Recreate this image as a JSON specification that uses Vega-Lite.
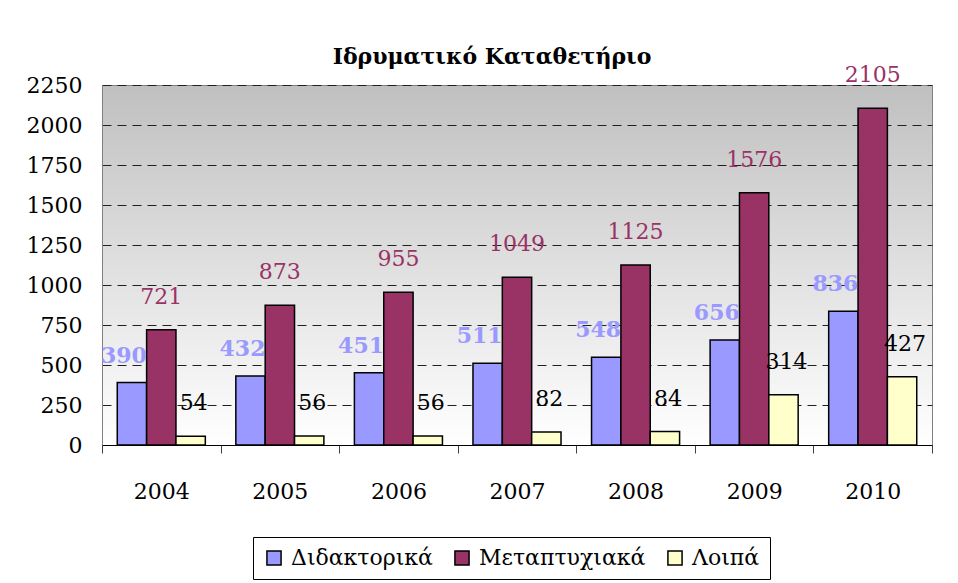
{
  "$schema": "https://vega.github.io/schema/vega-lite/v6.json",
  "width": 830,
  "height": 360,
  "autosize": {"type": "none"},
  "padding": {"left": 102, "top": 85, "right": 26, "bottom": 138},
  "background": "white",
  "title": {
    "text": "Ιδρυματικό Καταθετήριο",
    "font": "DejaVu Serif",
    "fontSize": 22,
    "fontWeight": "bold",
    "color": "black",
    "anchor": "middle",
    "dx": -25,
    "dy": 44,
    "baseline": "alphabetic",
    "offset": 22
  },
  "data": {
    "values": [
      {"year": "2004", "series": "Διδακτορικά", "value": 390},
      {"year": "2004", "series": "Μεταπτυχιακά", "value": 721},
      {"year": "2004", "series": "Λοιπά", "value": 54},
      {"year": "2005", "series": "Διδακτορικά", "value": 432},
      {"year": "2005", "series": "Μεταπτυχιακά", "value": 873},
      {"year": "2005", "series": "Λοιπά", "value": 56},
      {"year": "2006", "series": "Διδακτορικά", "value": 451},
      {"year": "2006", "series": "Μεταπτυχιακά", "value": 955},
      {"year": "2006", "series": "Λοιπά", "value": 56},
      {"year": "2007", "series": "Διδακτορικά", "value": 511},
      {"year": "2007", "series": "Μεταπτυχιακά", "value": 1049},
      {"year": "2007", "series": "Λοιπά", "value": 82},
      {"year": "2008", "series": "Διδακτορικά", "value": 548},
      {"year": "2008", "series": "Μεταπτυχιακά", "value": 1125},
      {"year": "2008", "series": "Λοιπά", "value": 84},
      {"year": "2009", "series": "Διδακτορικά", "value": 656},
      {"year": "2009", "series": "Μεταπτυχιακά", "value": 1576},
      {"year": "2009", "series": "Λοιπά", "value": 314},
      {"year": "2010", "series": "Διδακτορικά", "value": 836},
      {"year": "2010", "series": "Μεταπτυχιακά", "value": 2105},
      {"year": "2010", "series": "Λοιπά", "value": 427}
    ]
  },
  "encoding": {
    "x": {
      "field": "year",
      "type": "nominal",
      "scale": {"paddingInner": 0, "paddingOuter": 0},
      "axis": {
        "title": null,
        "labelAngle": 0,
        "labelFont": "DejaVu Serif",
        "labelFontSize": 22,
        "labelColor": "black",
        "labelPadding": 28,
        "domainColor": "black",
        "domainWidth": 1,
        "tickColor": "#404040",
        "tickSize": 8,
        "tickBand": "extent",
        "grid": false
      }
    },
    "xOffset": {
      "field": "series",
      "type": "nominal",
      "scale": {"domain": ["Διδακτορικά", "Μεταπτυχιακά", "Λοιπά"], "paddingInner": 0, "paddingOuter": 0.52}
    },
    "y": {
      "field": "value",
      "type": "quantitative",
      "scale": {"domain": [0, 2250], "nice": false},
      "axis": {
        "title": null,
        "values": [0, 250, 500, 750, 1000, 1250, 1500, 1750, 2000, 2250],
        "format": "d",
        "labelFont": "DejaVu Serif",
        "labelFontSize": 22,
        "labelColor": "black",
        "labelPadding": 20,
        "ticks": false,
        "domainColor": "#808080",
        "grid": true,
        "gridColor": "#202020",
        "gridDash": [9, 6],
        "gridWidth": 1
      }
    }
  },
  "layer": [
    {
      "mark": {"type": "bar", "stroke": "black", "strokeWidth": 1.5},
      "encoding": {
        "color": {
          "field": "series",
          "type": "nominal",
          "scale": {"domain": ["Διδακτορικά", "Μεταπτυχιακά", "Λοιπά"], "range": ["#9999FF", "#993366", "#FFFFCC"]},
          "legend": {
            "title": null,
            "orient": "none",
            "legendX": 151,
            "legendY": 452,
            "direction": "horizontal",
            "columns": 3,
            "strokeColor": "black",
            "padding": 10,
            "labelFont": "DejaVu Serif",
            "labelFontSize": 22,
            "labelColor": "black",
            "labelLimit": 400,
            "symbolType": "square",
            "symbolSize": 200,
            "symbolStrokeColor": "black",
            "symbolStrokeWidth": 1.5,
            "labelOffset": 6,
            "columnPadding": 18
          }
        }
      }
    },
    {
      "transform": [{"filter": "datum.series === 'Διδακτορικά'"}],
      "mark": {"type": "text", "font": "DejaVu Serif", "fontSize": 22, "fontWeight": "bold", "color": "#9999FF", "baseline": "alphabetic", "dy": -20, "dx": -8},
      "encoding": {"text": {"field": "value", "type": "quantitative"}}
    },
    {
      "transform": [{"filter": "datum.series === 'Μεταπτυχιακά'"}],
      "mark": {"type": "text", "font": "DejaVu Serif", "fontSize": 22, "color": "#993366", "baseline": "alphabetic", "dy": -26},
      "encoding": {"text": {"field": "value", "type": "quantitative"}}
    },
    {
      "transform": [{"filter": "datum.series === 'Λοιπά'"}],
      "mark": {"type": "text", "font": "DejaVu Serif", "fontSize": 22, "color": "black", "baseline": "alphabetic", "dy": -26, "dx": 3},
      "encoding": {"text": {"field": "value", "type": "quantitative"}}
    }
  ],
  "config": {
    "view": {
      "stroke": "#808080",
      "strokeWidth": 1,
      "fill": {
        "gradient": "linear",
        "x1": 0, "y1": 0, "x2": 0, "y2": 1,
        "stops": [
          {"offset": 0, "color": "#c0c0c0"},
          {"offset": 1, "color": "#ffffff"}
        ]
      }
    }
  }
}
